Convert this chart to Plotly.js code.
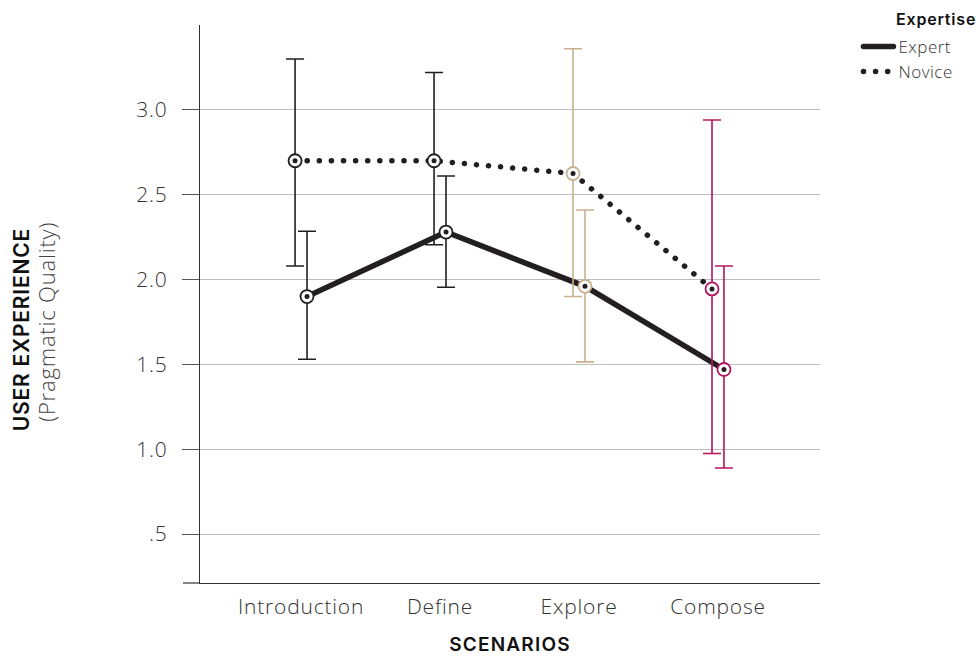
<!DOCTYPE html>
<html>
<head>
<meta charset="utf-8">
<script src="https://cdn.plot.ly/plotly-3.0.1.min.js"></script>
<style>
html,body{margin:0;padding:0;background:#fff;}
#chart{width:976px;height:659px;}
.scatterlayer path.js-line, .legendlines path.js-line { stroke-linecap: round; }
.xtick text, .ytick text { letter-spacing: 0.8px; }
.xtitle { letter-spacing: 1.2px; }
.annotation-text { letter-spacing: 0.8px; }
.legendtext { letter-spacing: 0.5px; }
</style>
</head>
<body>
<div id="chart"></div>
<script>
// ---- data ----
const categories = ['Introduction', 'Define', 'Explore', 'Compose'];
const expertMean = [1.90, 2.28, 1.96, 1.47];
const expertLow  = [1.53, 1.955, 1.515, 0.89];
const expertHigh = [2.285, 2.61, 2.41, 2.08];
const noviceMean = [2.70, 2.70, 2.625, 1.945];
const noviceLow  = [2.08, 2.205, 1.90, 0.975];
const noviceHigh = [3.30, 3.22, 3.36, 2.94];
const yTickVals  = [0.5, 1.0, 1.5, 2.0, 2.5, 3.0];
const yTickText  = ['.5', '1.0', '1.5', '2.0', '2.5', '3.0'];

// ---- styles ----
const catColors = ['#231f20', '#231f20', '#c9b08f', '#b3165f'];
const dodge = 0.043;
const ink = '#231f20';
const lightFont = '"Open Sans", sans-serif';
const boldFont = 'Inter, "Open Sans", sans-serif';
const idx = categories.map((c, i) => i);
const xNov = idx.map(i => i - dodge);
const xExp = idx.map(i => i + dodge);

const traces = [];
traces.push({
  x: xExp, y: expertMean, name: 'Expert', mode: 'lines',
  line: {color: ink, width: 5.5}, hoverinfo: 'skip'
});
traces.push({
  x: xNov, y: noviceMean, name: 'Novice', mode: 'lines',
  line: {color: ink, width: 5.5, dash: '0.1px,12px'}, hoverinfo: 'skip'
});

function addPoint(x, y, lo, hi, col) {
  traces.push({
    x: [x], y: [y], mode: 'markers', showlegend: false, hoverinfo: 'skip',
    error_y: {type: 'data', symmetric: false, array: [hi - y], arrayminus: [y - lo],
              color: col, thickness: 1.6, width: 9},
    marker: {symbol: 'circle', size: 13, color: '#ffffff', line: {color: col, width: 1.8}}
  });
  traces.push({
    x: [x], y: [y], mode: 'markers', showlegend: false, hoverinfo: 'skip',
    marker: {symbol: 'circle', size: 5, color: ink, line: {width: 0}}
  });
}
idx.forEach(i => {
  addPoint(xNov[i], noviceMean[i], noviceLow[i], noviceHigh[i], catColors[i]);
  addPoint(xExp[i], expertMean[i], expertLow[i], expertHigh[i], catColors[i]);
});

const tickFont = {family: lightFont, size: 21, color: '#333', weight: 300};

const layout = {
  width: 976, height: 659,
  margin: {l: 200, r: 156, t: 25, b: 76},
  paper_bgcolor: '#fff', plot_bgcolor: '#fff',
  font: {family: lightFont, color: '#333', size: 18},
  showlegend: true,
  legend: {
    x: 1.062, xanchor: 'left', y: 0.993, yanchor: 'top',
    font: {family: lightFont, size: 17, color: '#333', weight: 300},
    bgcolor: 'rgba(0,0,0,0)', tracegroupgap: 0, itemwidth: 30
  },
  xaxis: {
    range: [-0.727, 3.734],
    tickvals: idx, ticktext: categories,
    showgrid: false, zeroline: false,
    showline: true, linecolor: '#333', linewidth: 1.2,
    ticks: '', ticklabelstandoff: 5,
    tickfont: tickFont,
    title: {text: 'SCENARIOS', font: {family: boldFont, size: 19, color: '#111', weight: 600}, standoff: 18}
  },
  yaxis: {
    range: [0.212, 3.5],
    tickvals: yTickVals, ticktext: yTickText,
    showgrid: true, gridcolor: '#bdbdbd', gridwidth: 1,
    zeroline: false,
    showline: true, linecolor: '#333', linewidth: 1.2,
    ticks: 'outside', ticklen: 17, tickcolor: '#555', tickwidth: 1,
    ticklabelstandoff: 10,
    tickfont: tickFont
  },
  shapes: [{
    type: 'line', xref: 'paper', yref: 'paper',
    x0: -17/620, x1: 0, y0: 0, y1: 0,
    line: {color: '#333', width: 1.2}
  }],
  annotations: [
    {xref: 'paper', yref: 'paper', x: -0.2887, y: 0.453, xanchor: 'center', yanchor: 'middle',
     textangle: -90, showarrow: false,
     text: 'USER EXPERIENCE', font: {family: boldFont, size: 21, color: '#111', weight: 600}},
    {xref: 'paper', yref: 'paper', x: -0.2484, y: 0.468, xanchor: 'center', yanchor: 'middle',
     textangle: -90, showarrow: false,
     text: '(Pragmatic Quality)', font: {family: lightFont, size: 22, color: '#444', weight: 300}},
    {xref: 'paper', yref: 'paper', x: 1.119, y: 1.01, xanchor: 'left', yanchor: 'middle',
     showarrow: false,
     text: 'Expertise', font: {family: boldFont, size: 16, color: '#111', weight: 600}}
  ]
};

Plotly.newPlot('chart', traces, layout, {displayModeBar: false, staticPlot: true});
</script>
</body>
</html>
